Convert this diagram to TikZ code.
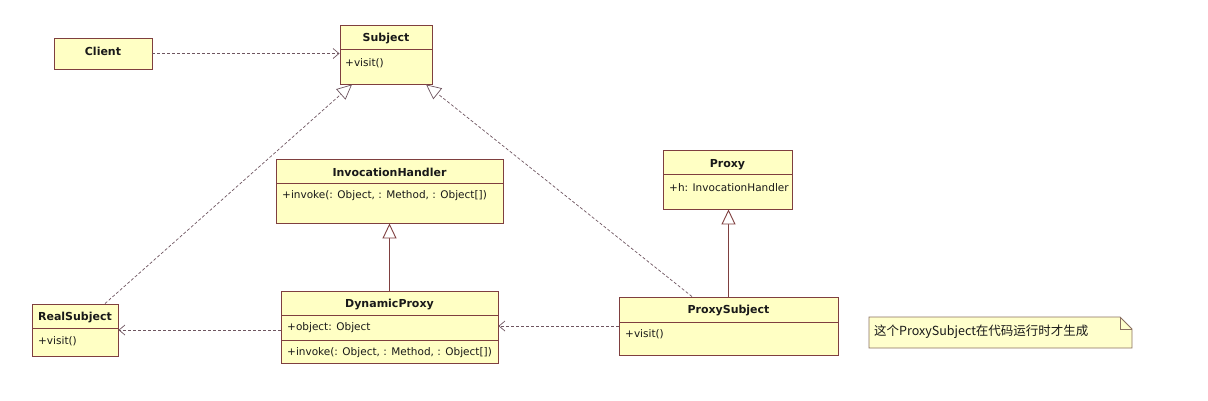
\documentclass[tikz,border=0pt]{standalone}
\usepackage{fontspec}
\setmainfont{DejaVu Sans}
\newfontfamily\cjk{Noto Sans CJK SC}
\usetikzlibrary{arrows.meta,calc,shapes.misc}
\definecolor{boxfill}{HTML}{FFFFC4}
\definecolor{boxline}{HTML}{7F3F3F}
\definecolor{dashcol}{HTML}{6E5560}
\definecolor{notefill}{HTML}{FFFFCC}
\definecolor{noteline}{HTML}{8A7060}
\tikzset{
  cls/.style={draw=boxline, fill=boxfill, line width=0.9pt, rectangle, inner sep=0pt},
  sepline/.style={draw=boxline, line width=0.9pt},
  ttl/.style={font=\fontsize{11}{12}\selectfont\bfseries, inner sep=0pt, text=black!90, yshift=-1.5pt},
  mem/.style={font=\fontsize{10.5}{12}\selectfont, inner sep=0pt, anchor=west, text=black!90, yshift=-1pt},
  dep/.style={draw=dashcol, line width=0.7pt, dash pattern=on 3pt off 2pt, -{Straight Barb[length=6pt,width=10pt]}},
  real/.style={draw=dashcol, line width=0.7pt, dash pattern=on 3pt off 2pt, -{Triangle[open,length=15pt,width=14pt,fill=white]}},
  inh/.style={draw=boxline, line width=0.9pt, -{Triangle[open,length=15pt,width=14pt,fill=white]}},
}
\begin{document}
\begin{tikzpicture}[x=1pt,y=-1pt]
\useasboundingbox (0,0) rectangle (1208,400);
% Client
\node[cls, minimum width=98pt, minimum height=31pt] (client) at (103,53.5) {};
\node[ttl] (clientT) at (103,50) {Client};
% Subject
\node[cls, minimum width=92pt, minimum height=59pt] (subj) at (386,54.5) {};
\draw[sepline] (340,49) -- (432,49);
\node[ttl] (subjT) at (386,37) {Subject};
\node[mem] (subjM) at (345,62) {+visit()};
% InvocationHandler
\node[cls, minimum width=227pt, minimum height=64pt] (ih) at (389.5,191) {};
\draw[sepline] (276,183) -- (503,183);
\node[ttl] (ihT) at (389.5,171) {InvocationHandler};
\node[mem] (ihM) at (282,195) {+invoke(: Object, : Method, : Object[])};
% DynamicProxy
\node[cls, minimum width=217pt, minimum height=72pt] (dp) at (389.5,327) {};
\draw[sepline] (281,315) -- (498,315);
\draw[sepline] (281,340) -- (498,340);
\node[ttl] (dpT) at (389.5,303) {DynamicProxy};
\node[mem] (dpM1) at (287,327) {+object: Object};
\node[mem] (dpM2) at (287,351.5) {+invoke(: Object, : Method, : Object[])};
% Proxy
\node[cls, minimum width=129pt, minimum height=59pt] (proxy) at (727.5,179.5) {};
\draw[sepline] (663,174) -- (792,174);
\node[ttl] (proxyT) at (727.5,163) {Proxy};
\node[mem] (proxyM) at (669,187) {+h: InvocationHandler};
% ProxySubject
\node[cls, minimum width=219pt, minimum height=58pt] (ps) at (728.5,326) {};
\draw[sepline] (619,322) -- (838,322);
\node[ttl] (psT) at (728.5,309) {ProxySubject};
\node[mem] (psM) at (625,333.5) {+visit()};
% RealSubject
\node[cls, minimum width=86pt, minimum height=52pt] (rs) at (75,330) {};
\draw[sepline] (32,328) -- (118,328);
\node[ttl] (rsT) at (75,316) {RealSubject};
\node[mem] (rsM) at (38,340) {+visit()};
% Note
\draw[draw=noteline, fill=notefill, line width=0.8pt] (869,317) -- (1120,317) -- (1132,329) -- (1132,348) -- (869,348) -- cycle;
\draw[draw=noteline, line width=0.8pt] (1120,317) -- (1120,329) -- (1132,329);
\node[anchor=west, inner sep=0pt, font=\cjk\fontsize{12.5}{14}\selectfont, text=black!90, yshift=-0.5pt] (note) at (874,331) {这个ProxySubject在代码运行时才生成};
% connectors
\draw[dep] (client.east) -- (client.east -| subj.west);
\draw[real] ($(rs.north)+(30,0)$) -- ($(subj.south)+(-34,0)$);
\draw[real] ($(ps.north)+(-36.5,0)$) -- ($(subj.south)+(40,0)$);
\draw[inh] (dp.north) -- (dp.north |- ih.south);
\draw[inh] (ps.north) -- (ps.north |- proxy.south);
\draw[dep] (ps.west) -- (ps.west -| dp.east);
\draw[dep] (dp.west |- rs.east) -- (rs.east);
\end{tikzpicture}
\end{document}
